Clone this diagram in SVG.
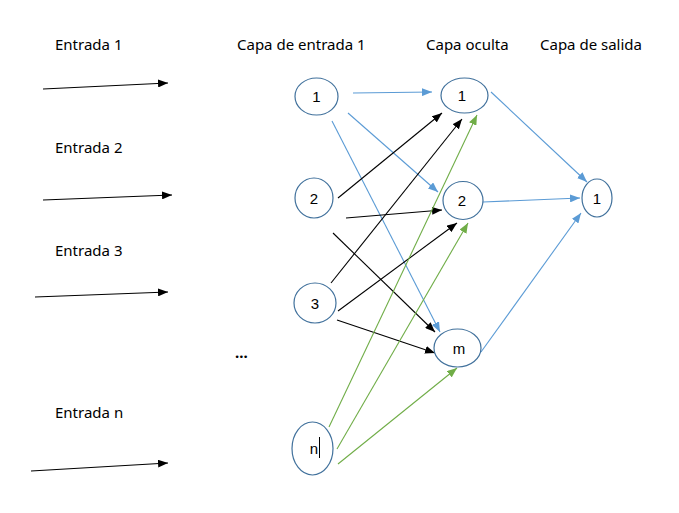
<svg xmlns="http://www.w3.org/2000/svg" width="679" height="513" viewBox="0 0 679 513">
<style>
.lbl{font-family:"Noto Sans","DejaVu Sans",sans-serif;font-size:15px;fill:#000}
.num{font-family:"Liberation Sans",Arial,sans-serif;font-size:15px;fill:#000;text-anchor:middle}
.node{fill:#fff;stroke:#41719C;stroke-width:1.2}
.b{stroke:#5B9BD5;stroke-width:1.1;fill:none;marker-end:url(#mb)}
.k{stroke:#000;stroke-width:1.1;fill:none;marker-end:url(#mk)}
.g{stroke:#70AD47;stroke-width:1.1;fill:none;marker-end:url(#mg)}
</style>
<defs>
<marker id="mb" markerUnits="userSpaceOnUse" viewBox="0 0 10 8" refX="10" refY="4" markerWidth="10" markerHeight="8" orient="auto"><path d="M0,0L10,4L0,8z" fill="#5B9BD5"/></marker>
<marker id="mk" markerUnits="userSpaceOnUse" viewBox="0 0 10 8" refX="10" refY="4" markerWidth="10" markerHeight="8" orient="auto"><path d="M0,0L10,4L0,8z" fill="#000"/></marker>
<marker id="mg" markerUnits="userSpaceOnUse" viewBox="0 0 10 8" refX="10" refY="4" markerWidth="10" markerHeight="8" orient="auto"><path d="M0,0L10,4L0,8z" fill="#70AD47"/></marker>
</defs>
<rect width="679" height="513" fill="#fff"/>
<g id="labels">
<text class="lbl" x="55" y="50">Entrada 1</text>
<text class="lbl" x="55" y="153">Entrada 2</text>
<text class="lbl" x="55" y="256">Entrada 3</text>
<text class="lbl" x="55" y="418">Entrada n</text>
<text class="lbl" x="237" y="50">Capa de entrada 1</text>
<text class="lbl" x="426" y="50">Capa oculta</text>
<text class="lbl" x="540" y="50">Capa de salida</text>
<text class="lbl" x="235" y="358" font-weight="bold">...</text>
</g>
<g id="connectors">
<line class="k" x1="43" y1="89" x2="168" y2="83"/>
<line class="k" x1="43" y1="200" x2="172" y2="195"/>
<line class="k" x1="35" y1="297" x2="168" y2="292"/>
<line class="k" x1="31" y1="471" x2="168" y2="463"/>
<line class="b" x1="353" y1="93" x2="432" y2="92"/>
<line class="b" x1="348" y1="113" x2="438" y2="192"/>
<line class="b" x1="332" y1="121" x2="440" y2="332"/>
<line class="k" x1="338" y1="198" x2="442" y2="113"/>
<line class="k" x1="346" y1="218" x2="442" y2="210"/>
<line class="k" x1="333" y1="233" x2="435" y2="332"/>
<line class="k" x1="331" y1="283" x2="462" y2="119"/>
<line class="k" x1="338" y1="311" x2="457" y2="223"/>
<line class="k" x1="337" y1="320" x2="435" y2="353"/>
<line class="g" x1="329" y1="427" x2="477" y2="115"/>
<line class="g" x1="337" y1="449" x2="468" y2="223"/>
<line class="g" x1="338" y1="464" x2="457" y2="368"/>
<line class="b" x1="491" y1="92" x2="587" y2="182"/>
<line class="b" x1="483" y1="202" x2="580" y2="198"/>
<line class="b" x1="481" y1="352" x2="581" y2="213"/>
</g>
<g id="in1"><ellipse class="node" cx="316.5" cy="96.5" rx="21.5" ry="18.5"/><text class="num" x="316.5" y="102">1</text></g>
<g id="in2"><ellipse class="node" cx="314" cy="198" rx="19" ry="20"/><text class="num" x="314" y="203.5">2</text></g>
<g id="in3"><ellipse class="node" cx="315" cy="303" rx="21" ry="20"/><text class="num" x="315" y="308.5">3</text></g>
<g id="inn"><ellipse class="node" cx="312.5" cy="448.5" rx="20.5" ry="26.5"/><text class="num" x="314" y="454">n</text><line x1="319.5" y1="437" x2="319.5" y2="458" stroke="#000" stroke-width="1"/></g>
<g id="h1"><ellipse class="node" cx="464.5" cy="95.5" rx="23.5" ry="17.5"/><text class="num" x="462" y="101">1</text></g>
<g id="h2"><ellipse class="node" cx="463" cy="200.5" rx="20" ry="19"/><text class="num" x="462" y="206">2</text></g>
<g id="hm"><ellipse class="node" cx="457.5" cy="348" rx="23.5" ry="19"/><text class="num" x="459" y="354">m</text></g>
<g id="out1"><ellipse class="node" cx="597" cy="198" rx="15" ry="19"/><text class="num" x="597" y="203.5">1</text></g>
</svg>
